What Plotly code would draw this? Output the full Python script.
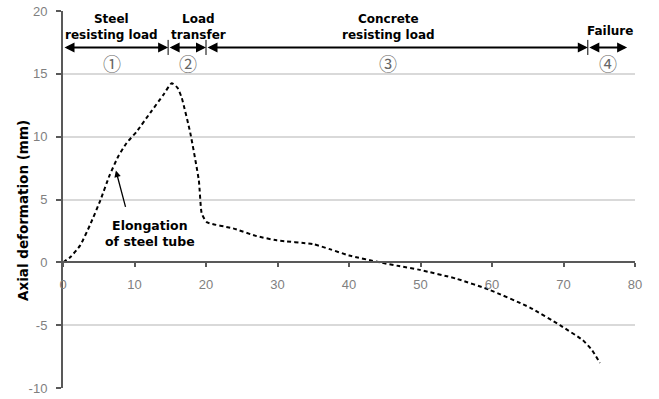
import plotly.graph_objects as go

# ---- data ----
time_min = [0, 1.0, 2.4, 3.8, 5.2, 6.5, 7.7, 8.9, 10.3, 12.2, 14.0, 15.2, 16.0, 16.6, 17.8, 19.0, 19.4, 20.1, 23.8, 27.0, 29.9, 35.0, 37.3, 40.0, 44.3, 47.0, 49.9, 55.0, 59.7, 65.3, 69.5, 72.7, 74.0, 75.1]
axial_def = [0, 0.4, 1.35, 3.0, 4.9, 6.9, 8.4, 9.5, 10.4, 11.9, 13.3, 14.25, 13.9, 13.1, 10.3, 6.5, 3.9, 3.2, 2.7, 2.1, 1.75, 1.45, 1.05, 0.55, 0.0, -0.3, -0.6, -1.3, -2.2, -3.6, -5.0, -6.2, -7.0, -8.0]

phase_bounds = [0, 14.7, 20.0, 73.4, 78.9]
phase_titles = ["Steel<br>resisting load", "Load<br>transfer", "Concrete<br>resisting load", "Failure"]
phase_title_x = [6.8, 18.9, 45.5, 76.5]
phase_nums = ["①", "②", "③", "④"]
phase_num_x = [6.8, 17.5, 45.5, 76.2]

x_ticks = [0, 10, 20, 30, 40, 50, 60, 70, 80]
y_ticks = [-10, -5, 0, 5, 10, 15, 20]
y_tick_text = ["-10", "-5", "0", "5", "10", "15", "20"]

BOLD = "DejaVu Sans"
plot_l, plot_r, plot_t, plot_b = 63, 24, 11, 11
W, H = 659, 399
pw, ph = W - plot_l - plot_r, H - plot_t - plot_b

fig = go.Figure()
fig.add_trace(go.Scatter(x=time_min, y=axial_def, mode="lines",
                         line=dict(color="black", width=2, dash="4px,3px", shape="spline", smoothing=0.5),
                         showlegend=False, hoverinfo="skip"))

ann = []
arrow_y = 17.1
for i in range(4):
    ann.append(dict(x=phase_bounds[i + 1], y=arrow_y, ax=phase_bounds[i], ay=arrow_y,
                    xref="x", yref="y", axref="x", ayref="y", text="", showarrow=True,
                    arrowhead=2, startarrowhead=2, arrowside="end+start", arrowsize=1,
                    arrowwidth=2, arrowcolor="black", standoff=0, startstandoff=0))
    ann.append(dict(x=phase_title_x[i], y=arrow_y, xref="x", yref="y", text="<b>%s</b>" % phase_titles[i],
                    showarrow=False, yanchor="bottom", yshift=3 if "<br>" in phase_titles[i] else 7,
                    font=dict(family=BOLD, size=12, color="black"), align="center"))
    ann.append(dict(x=phase_num_x[i], y=15.9, xref="x", yref="y", text=phase_nums[i], showarrow=False,
                    font=dict(family="Noto Sans CJK KR", size=18, color="#666666")))

ann.append(dict(x=7.4, y=7.3, ax=8.8, ay=4.3, xref="x", yref="y", axref="x", ayref="y", text="",
                showarrow=True, arrowhead=2, arrowsize=1, arrowwidth=1.3, arrowcolor="black", standoff=0))
ann.append(dict(x=12.2, y=2.3, xref="x", yref="y", text="<b>Elongation<br>of steel tube</b>",
                showarrow=False, font=dict(family=BOLD, size=12.5, color="black"), align="center"))
ann.append(dict(x=81.4, y=1.05, xref="x", yref="y", text="<b>Fire resisting time (min.)</b>",
                showarrow=False, xanchor="right", font=dict(family=BOLD, size=12.5, color="black")))
ann.append(dict(x=(13 - plot_l) / pw, y=(H - plot_b - 211) / ph, xref="paper", yref="paper",
                text="<b>Axial deformation (mm)</b>", showarrow=False, textangle=-90,
                font=dict(family=BOLD, size=13.5, color="black")))

shapes = []
for b in phase_bounds[1:4]:
    shapes.append(dict(type="line", x0=b, x1=b, y0=arrow_y - 0.6, y1=arrow_y + 0.6, xref="x", yref="y",
                       line=dict(color="black", width=1)))

fig.update_layout(
    width=W, height=H,
    margin=dict(l=plot_l, r=plot_r, t=plot_t, b=plot_b),
    plot_bgcolor="white", paper_bgcolor="white",
    annotations=ann, shapes=shapes,
    xaxis=dict(range=[0, 80], tickvals=x_ticks, showgrid=False, zeroline=False, automargin=False,
               showline=True, linecolor="#595959", linewidth=2, ticks="outside", ticklen=4,
               tickcolor="#595959", tickwidth=2, anchor="free", position=1/3, ticklabelstandoff=6,
               tickfont=dict(family="Liberation Sans", size=13, color="#7f7f7f")),
    yaxis=dict(range=[-10, 20], tickvals=y_ticks, ticktext=y_tick_text, showgrid=True,
               gridcolor="#d9d9d9", gridwidth=1.5, automargin=False,
               zeroline=False, showline=True, linecolor="#595959", linewidth=2, ticks="outside",
               ticklen=5, tickcolor="#595959", tickwidth=2, ticklabelstandoff=6,
               tickfont=dict(family="Liberation Sans", size=13, color="#7f7f7f")),
)

fig.write_html("out.html")
